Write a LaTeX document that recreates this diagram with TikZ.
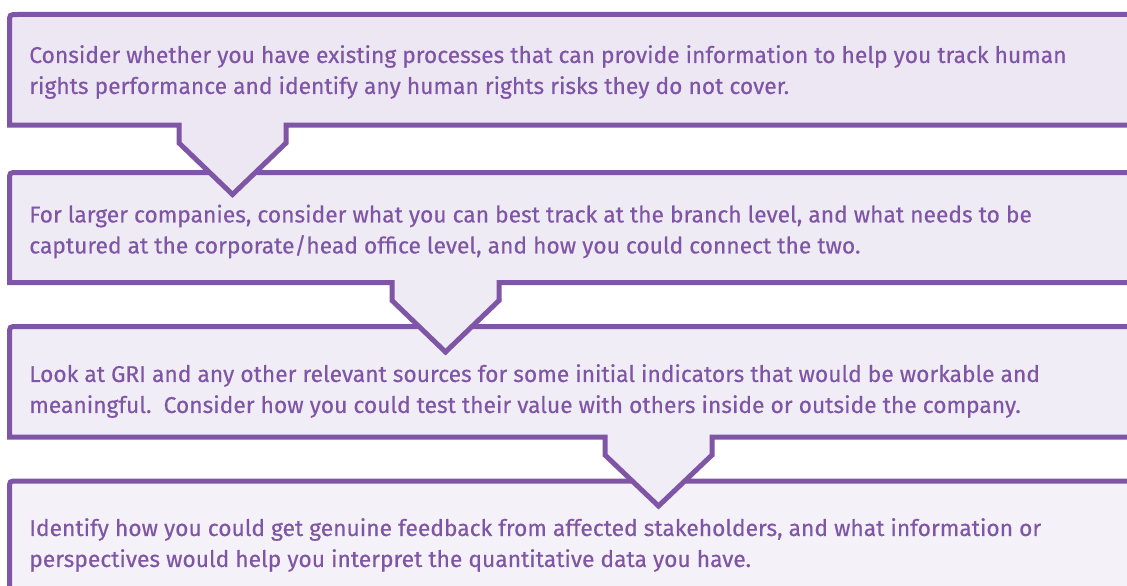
\documentclass[tikz,border=0pt]{standalone}
\usepackage{fontspec}
\setmainfont{Fira Sans}[FakeBold=0.35]

\definecolor{euviolet}{HTML}{7F55A5}
\definecolor{stepfill0}{HTML}{EDE6F3}
\definecolor{stepfill1}{HTML}{EFEBF5}
\definecolor{stepfill2}{HTML}{F1EDF6}
\definecolor{stepfill3}{HTML}{F4F1F8}

\begin{document}
\begin{tikzpicture}[x=0.75pt,y=-0.75pt,
	stepline/.style={draw=euviolet,line width=3.75pt,line join=miter},
	steptext/.style={anchor=west,align=left,inner sep=0pt,text=euviolet,font=\fontsize{17.1}{23.25}\selectfont}]

	\useasboundingbox (0,0) rectangle (1127,585);
	\clip (0,0) rectangle (1127,585);

	% last box first, so every tab lies over the box below it
	\path[stepline,fill=stepfill3] (1140,600) -- (9.5,600) -- (9.5,489) .. controls (9.5,481) .. (17.5,481) -- (1140,481);
	\path[stepline,fill=stepfill2] (1140,437) -- (712,437) -- (712,455) -- (658.5,506) -- (605,455) -- (605,437)
		-- (9.5,437) -- (9.5,334.5) .. controls (9.5,326.5) .. (17.5,326.5) -- (1140,326.5);
	\path[stepline,fill=stepfill1] (1140,282.5) -- (499,282.5) -- (499,300.5) -- (445.5,352) -- (392,300.5) -- (392,282.5)
		-- (9.5,282.5) -- (9.5,180.5) .. controls (9.5,172.5) .. (17.5,172.5) -- (1140,172.5);
	\path[stepline,fill=stepfill0] (1140,125) -- (286,125) -- (286,143) -- (232.5,194.5) -- (179,143) -- (179,125)
		-- (9.5,125) -- (9.5,22.5) .. controls (9.5,14.5) .. (17.5,14.5) -- (1140,14.5);

	\node (step0)	at (29,72) [steptext] {Consider whether you have existing processes that can provide information to help you track human\\rights performance and identify any human rights risks they do not cover.};
	\node (step1)	at (29,231.5) [steptext] {For larger companies, consider what you can best track at the branch level, and what needs to be\\captured at the corporate/head office level, and how you could connect the two.};
	\node (step2)	at (29,391) [steptext] {Look at GRI and any other relevant sources for some initial indicators that would be workable and\\meaningful.\ \ Consider how you could test their value with others inside or outside the company.};
	\node (step3)	at (29,545) [steptext] {Identify how you could get genuine feedback from affected stakeholders, and what information or\\perspectives would help you interpret the quantitative data you have.};
\end{tikzpicture}
\end{document}
